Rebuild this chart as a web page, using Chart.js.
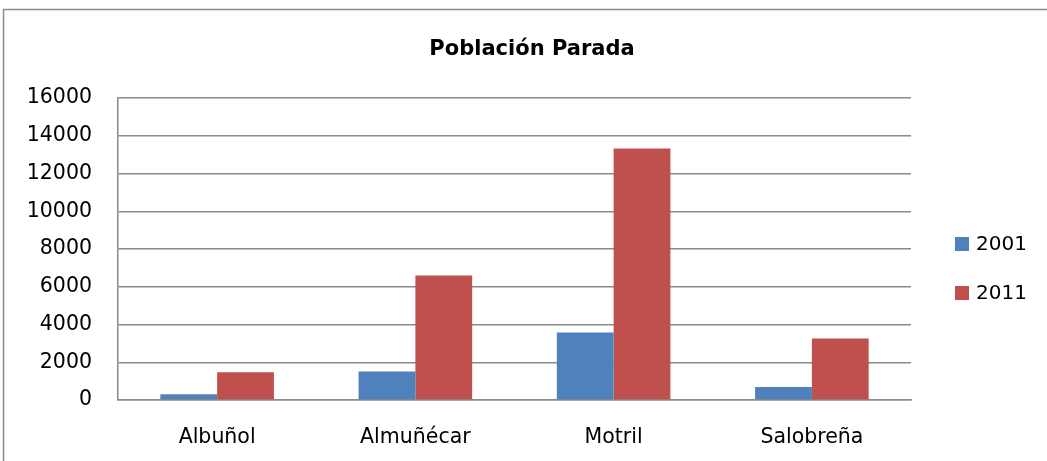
<!DOCTYPE html>
<html>
<head>
<meta charset="utf-8">
<script src="https://cdn.jsdelivr.net/npm/chart.js@4/dist/chart.umd.min.js"></script>
<style>
  html, body { margin: 0; padding: 0; background: #fff; }
  #wrap { width: 1047px; height: 461px; overflow: hidden; }
</style>
</head>
<body>
<div id="wrap"><canvas id="chart" width="1047" height="461"></canvas></div>
<script>
// ---- data ----
var categories = ["Albuñol", "Almuñécar", "Motril", "Salobreña"];
var seriesNames = ["2001", "2011"];
var values2001 = [300, 1510, 3570, 690];
var values2011 = [1470, 6600, 13330, 3255];
var yTicks = [0, 2000, 4000, 6000, 8000, 10000, 12000, 14000, 16000];
var chartTitle = "Población Parada";

// ---- styles ----
var blue = "#4F81BD";
var red = "#C0504D";
var gridColor = "#8a8a8a";
var fontFamily = "'DejaVu Sans', sans-serif";

// frame, title and legend drawn on the canvas
var extras = {
    id: "extras",
    beforeDraw: function (chart) {
        var ctx = chart.ctx;
        ctx.save();
        ctx.fillStyle = "#fff";
        ctx.fillRect(0, 0, chart.width, chart.height);
        ctx.strokeStyle = "#8a8a8a";
        ctx.lineWidth = 1.5;
        ctx.strokeRect(3.5, 9.5, chart.width + 20, chart.height + 20);
        ctx.restore();
    },
    afterDraw: function (chart) {
        var ctx = chart.ctx;
        ctx.save();
        // title
        ctx.fillStyle = "#000";
        ctx.font = "bold 21px " + fontFamily;
        ctx.textAlign = "center";
        ctx.textBaseline = "middle";
        ctx.fillText(chartTitle, 532, 50);
        // legend
        ctx.font = "20px " + fontFamily;
        ctx.textAlign = "left";
        var ys = [244, 293];
        chart.data.datasets.forEach(function (ds, i) {
            ctx.fillStyle = ds.backgroundColor;
            ctx.fillRect(955, ys[i] - 7, 14, 14);
            ctx.fillStyle = "#000";
            ctx.fillText(ds.label, 976, ys[i] + 1);
        });
        ctx.restore();
    }
};

new Chart(document.getElementById("chart").getContext("2d"), {
    type: "bar",
    data: {
        labels: categories,
        datasets: [
            { label: seriesNames[0], data: values2001, backgroundColor: blue },
            { label: seriesNames[1], data: values2011, backgroundColor: red }
        ]
    },
    options: {
        responsive: false,
        animation: false,
        devicePixelRatio: 1,
        layout: { padding: { top: 98, right: 136, bottom: 0, left: 0 } },
        datasets: { bar: { categoryPercentage: 0.573, barPercentage: 1.0 } },
        plugins: {
            legend: { display: false },
            title: { display: false },
            tooltip: { enabled: false }
        },
        scales: {
            x: {
                grid: { display: false, drawTicks: false },
                border: { display: true, color: gridColor, width: 1.5 },
                ticks: { color: "#000", font: { family: fontFamily, size: 20.5 }, padding: 25, maxRotation: 0 },
                afterFit: function (scale) { scale.height = 61; }
            },
            y: {
                min: 0,
                max: yTicks[yTicks.length - 1],
                afterBuildTicks: function (scale) {
                    scale.ticks = yTicks.map(function (v) { return { value: v }; });
                },
                grid: { color: gridColor, lineWidth: 1.5, drawTicks: false },
                border: { display: true, color: gridColor, width: 1.5 },
                ticks: {
                    color: "#000",
                    font: { family: fontFamily, size: 20.5 },
                    padding: 26,
                    callback: function (v) { return String(v); }
                },
                afterFit: function (scale) { scale.width = 118; }
            }
        }
    },
    plugins: [extras]
});
</script>
</body>
</html>
